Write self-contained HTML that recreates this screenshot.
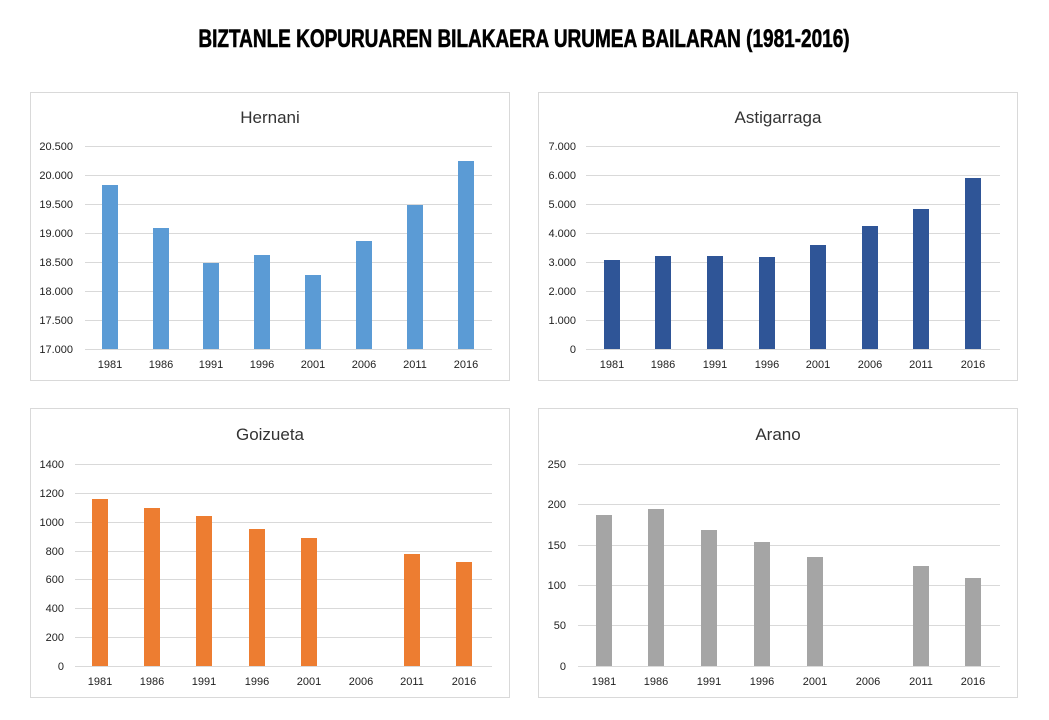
<!DOCTYPE html>
<html><head><meta charset="utf-8"><style>
body{margin:0;background:#fff;}
svg{display:block;font-family:"Liberation Sans",sans-serif;}
</style></head><body>
<svg width="1049" height="720" viewBox="0 0 1049 720" xmlns="http://www.w3.org/2000/svg">
<rect width="1049" height="720" fill="#fff"/>
<text x="524" y="47" text-anchor="middle" font-size="25" font-weight="bold" fill="#000" stroke="#000" stroke-width="0.6" transform="translate(524 0) scale(0.76 1) translate(-524 0)">BIZTANLE KOPURUAREN BILAKAERA URUMEA BAILARAN (1981-2016)</text>

<rect x="30.5" y="92.5" width="479" height="288" fill="#fff" stroke="#d9d9d9"/>
<rect x="538.5" y="92.5" width="479" height="288" fill="#fff" stroke="#d9d9d9"/>
<rect x="30.5" y="408.5" width="479" height="289" fill="#fff" stroke="#d9d9d9"/>
<rect x="538.5" y="408.5" width="479" height="289" fill="#fff" stroke="#d9d9d9"/>

<g font-size="17" fill="#333" text-anchor="middle">
<text x="270" y="123">Hernani</text>
<text x="778" y="123">Astigarraga</text>
<text x="270" y="440">Goizueta</text>
<text x="778" y="440">Arano</text>
</g>

<g stroke="#d9d9d9" stroke-width="1">
<line x1="85" x2="492" y1="146.5" y2="146.5"/><line x1="85" x2="492" y1="175.5" y2="175.5"/><line x1="85" x2="492" y1="204.5" y2="204.5"/><line x1="85" x2="492" y1="233.5" y2="233.5"/><line x1="85" x2="492" y1="262.5" y2="262.5"/><line x1="85" x2="492" y1="291.5" y2="291.5"/><line x1="85" x2="492" y1="320.5" y2="320.5"/><line x1="85" x2="492" y1="349.5" y2="349.5"/>
</g>
<g font-size="11" fill="#222" text-anchor="end">
<text x="73" y="150">20.500</text><text x="73" y="179">20.000</text><text x="73" y="208">19.500</text><text x="73" y="237">19.000</text><text x="73" y="266">18.500</text><text x="73" y="295">18.000</text><text x="73" y="324">17.500</text><text x="73" y="353">17.000</text>
</g>
<g fill="#5b9bd5">
<rect x="102" y="185" width="16" height="164"/><rect x="153" y="228" width="16" height="121"/><rect x="203" y="263" width="16" height="86"/><rect x="254" y="255" width="16" height="94"/><rect x="305" y="275" width="16" height="74"/><rect x="356" y="241" width="16" height="108"/><rect x="407" y="205" width="16" height="144"/><rect x="458" y="161" width="16" height="188"/>
</g>
<g font-size="11" fill="#222" text-anchor="middle">
<text x="110" y="368">1981</text><text x="161" y="368">1986</text><text x="211" y="368">1991</text><text x="262" y="368">1996</text><text x="313" y="368">2001</text><text x="364" y="368">2006</text><text x="415" y="368">2011</text><text x="466" y="368">2016</text>
</g>

<g stroke="#d9d9d9">
<line x1="586" x2="1000" y1="146.5" y2="146.5"/><line x1="586" x2="1000" y1="175.5" y2="175.5"/><line x1="586" x2="1000" y1="204.5" y2="204.5"/><line x1="586" x2="1000" y1="233.5" y2="233.5"/><line x1="586" x2="1000" y1="262.5" y2="262.5"/><line x1="586" x2="1000" y1="291.5" y2="291.5"/><line x1="586" x2="1000" y1="320.5" y2="320.5"/><line x1="586" x2="1000" y1="349.5" y2="349.5"/>
</g>
<g font-size="11" fill="#222" text-anchor="end">
<text x="576" y="150">7.000</text><text x="576" y="179">6.000</text><text x="576" y="208">5.000</text><text x="576" y="237">4.000</text><text x="576" y="266">3.000</text><text x="576" y="295">2.000</text><text x="576" y="324">1.000</text><text x="576" y="353">0</text>
</g>
<g fill="#2f5597">
<rect x="604" y="260" width="16" height="89"/><rect x="655" y="256" width="16" height="93"/><rect x="707" y="256" width="16" height="93"/><rect x="759" y="257" width="16" height="92"/><rect x="810" y="245" width="16" height="104"/><rect x="862" y="226" width="16" height="123"/><rect x="913" y="209" width="16" height="140"/><rect x="965" y="178" width="16" height="171"/>
</g>
<g font-size="11" fill="#222" text-anchor="middle">
<text x="612" y="368">1981</text><text x="663" y="368">1986</text><text x="715" y="368">1991</text><text x="767" y="368">1996</text><text x="818" y="368">2001</text><text x="870" y="368">2006</text><text x="921" y="368">2011</text><text x="973" y="368">2016</text>
</g>

<g stroke="#d9d9d9">
<line x1="75" x2="492" y1="464.5" y2="464.5"/><line x1="75" x2="492" y1="493.5" y2="493.5"/><line x1="75" x2="492" y1="522.5" y2="522.5"/><line x1="75" x2="492" y1="551.5" y2="551.5"/><line x1="75" x2="492" y1="579.5" y2="579.5"/><line x1="75" x2="492" y1="608.5" y2="608.5"/><line x1="75" x2="492" y1="637.5" y2="637.5"/><line x1="75" x2="492" y1="666.5" y2="666.5"/>
</g>
<g font-size="11" fill="#222" text-anchor="end">
<text x="64" y="468">1400</text><text x="64" y="497">1200</text><text x="64" y="526">1000</text><text x="64" y="555">800</text><text x="64" y="583">600</text><text x="64" y="612">400</text><text x="64" y="641">200</text><text x="64" y="670">0</text>
</g>
<g fill="#ed7d31">
<rect x="92" y="499" width="16" height="167"/><rect x="144" y="508" width="16" height="158"/><rect x="196" y="516" width="16" height="150"/><rect x="249" y="529" width="16" height="137"/><rect x="301" y="538" width="16" height="128"/><rect x="404" y="554" width="16" height="112"/><rect x="456" y="562" width="16" height="104"/>
</g>
<g font-size="11" fill="#222" text-anchor="middle">
<text x="100" y="685">1981</text><text x="152" y="685">1986</text><text x="204" y="685">1991</text><text x="257" y="685">1996</text><text x="309" y="685">2001</text><text x="361" y="685">2006</text><text x="412" y="685">2011</text><text x="464" y="685">2016</text>
</g>

<g stroke="#d9d9d9">
<line x1="578" x2="1000" y1="464.5" y2="464.5"/><line x1="578" x2="1000" y1="504.5" y2="504.5"/><line x1="578" x2="1000" y1="545.5" y2="545.5"/><line x1="578" x2="1000" y1="585.5" y2="585.5"/><line x1="578" x2="1000" y1="625.5" y2="625.5"/><line x1="578" x2="1000" y1="666.5" y2="666.5"/>
</g>
<g font-size="11" fill="#222" text-anchor="end">
<text x="566" y="468">250</text><text x="566" y="508">200</text><text x="566" y="549">150</text><text x="566" y="589">100</text><text x="566" y="629">50</text><text x="566" y="670">0</text>
</g>
<g fill="#a5a5a5">
<rect x="596" y="515" width="16" height="151"/><rect x="648" y="509" width="16" height="157"/><rect x="701" y="530" width="16" height="136"/><rect x="754" y="542" width="16" height="124"/><rect x="807" y="557" width="16" height="109"/><rect x="913" y="566" width="16" height="100"/><rect x="965" y="578" width="16" height="88"/>
</g>
<g font-size="11" fill="#222" text-anchor="middle">
<text x="604" y="685">1981</text><text x="656" y="685">1986</text><text x="709" y="685">1991</text><text x="762" y="685">1996</text><text x="815" y="685">2001</text><text x="868" y="685">2006</text><text x="921" y="685">2011</text><text x="973" y="685">2016</text>
</g>
</svg>
</body></html>
